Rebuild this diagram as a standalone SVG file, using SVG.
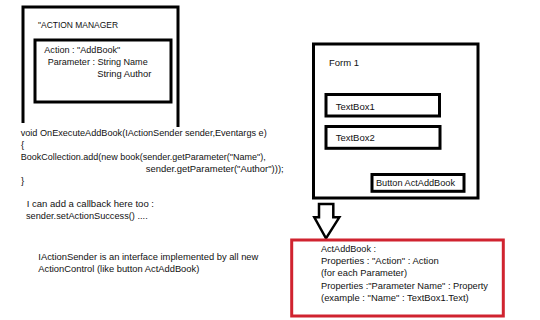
<svg xmlns="http://www.w3.org/2000/svg" width="540" height="320" viewBox="0 0 540 320">
<style>
text{font-family:"Liberation Sans",Arial,sans-serif;font-size:9.5px;fill:#111}
.box{fill:none;stroke:#000;stroke-width:3}
.red{fill:none;stroke:#d0232f;stroke-width:3}
.arrow{fill:#fff;stroke:#000;stroke-width:2.5;stroke-linejoin:miter}
</style>
<rect width="540" height="320" fill="#fff"/>
<g id="action-manager">
<path class="box" d="M23,123 V7 H178 V127"/>
<text x="38" y="27.5" textLength="80" lengthAdjust="spacingAndGlyphs">"ACTION MANAGER</text>
<g id="action-params">
<rect class="box" x="35" y="40" width="136" height="62"/>
<text x="44.3" y="53.3" textLength="76" lengthAdjust="spacingAndGlyphs">Action : "AddBook"</text>
<text x="47.7" y="65.3" textLength="100" lengthAdjust="spacingAndGlyphs">Parameter : String Name</text>
<text x="97.3" y="77.3" textLength="54" lengthAdjust="spacingAndGlyphs">String Author</text>
</g>
</g>
<g id="code">
<text x="20.7" y="135.5" textLength="246" lengthAdjust="spacingAndGlyphs">void OnExecuteAddBook(IActionSender sender,Eventargs e)</text>
<text x="21" y="147.5">{</text>
<text x="20.7" y="159.5" textLength="245" lengthAdjust="spacingAndGlyphs">BookCollection.add(new book(sender.getParameter("Name"),</text>
<text x="145.7" y="171.5" textLength="138" lengthAdjust="spacingAndGlyphs">sender.getParameter("Author")));</text>
<text x="21" y="183.5">}</text>
</g>
<g id="callback-note">
<text x="26.7" y="206.7" textLength="127.3" lengthAdjust="spacingAndGlyphs">I can add a callback here too :</text>
<text x="26" y="218.5" textLength="121.7" lengthAdjust="spacingAndGlyphs">sender.setActionSuccess() ....</text>
</g>
<g id="interface-note">
<text x="38.3" y="260" textLength="220" lengthAdjust="spacingAndGlyphs">IActionSender is an interface implemented by all new</text>
<text x="38.3" y="271.8" textLength="161" lengthAdjust="spacingAndGlyphs">ActionControl (like button ActAddBook)</text>
</g>
<g id="form1">
<rect class="box" x="313.5" y="44" width="164.5" height="154"/>
<text x="329" y="66">Form 1</text>
<g id="textbox1">
<rect class="box" x="326" y="94.5" width="113.5" height="21.5"/>
<text x="335.7" y="110">TextBox1</text>
</g>
<g id="textbox2">
<rect class="box" x="326" y="126.5" width="114" height="21.8"/>
<text x="335.7" y="141">TextBox2</text>
</g>
<g id="button-actaddbook">
<rect class="box" x="372" y="174.5" width="92" height="16.8"/>
<text x="376" y="186" textLength="79" lengthAdjust="spacingAndGlyphs">Button ActAddBook</text>
</g>
</g>
<g id="connectors">
<path class="arrow" d="M319,204 H333.3 V217.3 H339.3 L326,238.3 L314.3,217.3 H319 Z"/>
</g>
<g id="actaddbook">
<rect class="red" x="291.7" y="240" width="211.6" height="76"/>
<text x="321" y="252.3" textLength="55" lengthAdjust="spacingAndGlyphs">ActAddBook :</text>
<text x="321" y="264.3" textLength="117.7" lengthAdjust="spacingAndGlyphs">Properties : "Action" : Action</text>
<text x="321" y="276.3" textLength="86" lengthAdjust="spacingAndGlyphs">(for each Parameter)</text>
<text x="321" y="288.5" textLength="167" lengthAdjust="spacingAndGlyphs">Properties :"Parameter Name" : Property</text>
<text x="321" y="300.7" textLength="147.7" lengthAdjust="spacingAndGlyphs">(example : "Name" : TextBox1.Text)</text>
</g>
</svg>
